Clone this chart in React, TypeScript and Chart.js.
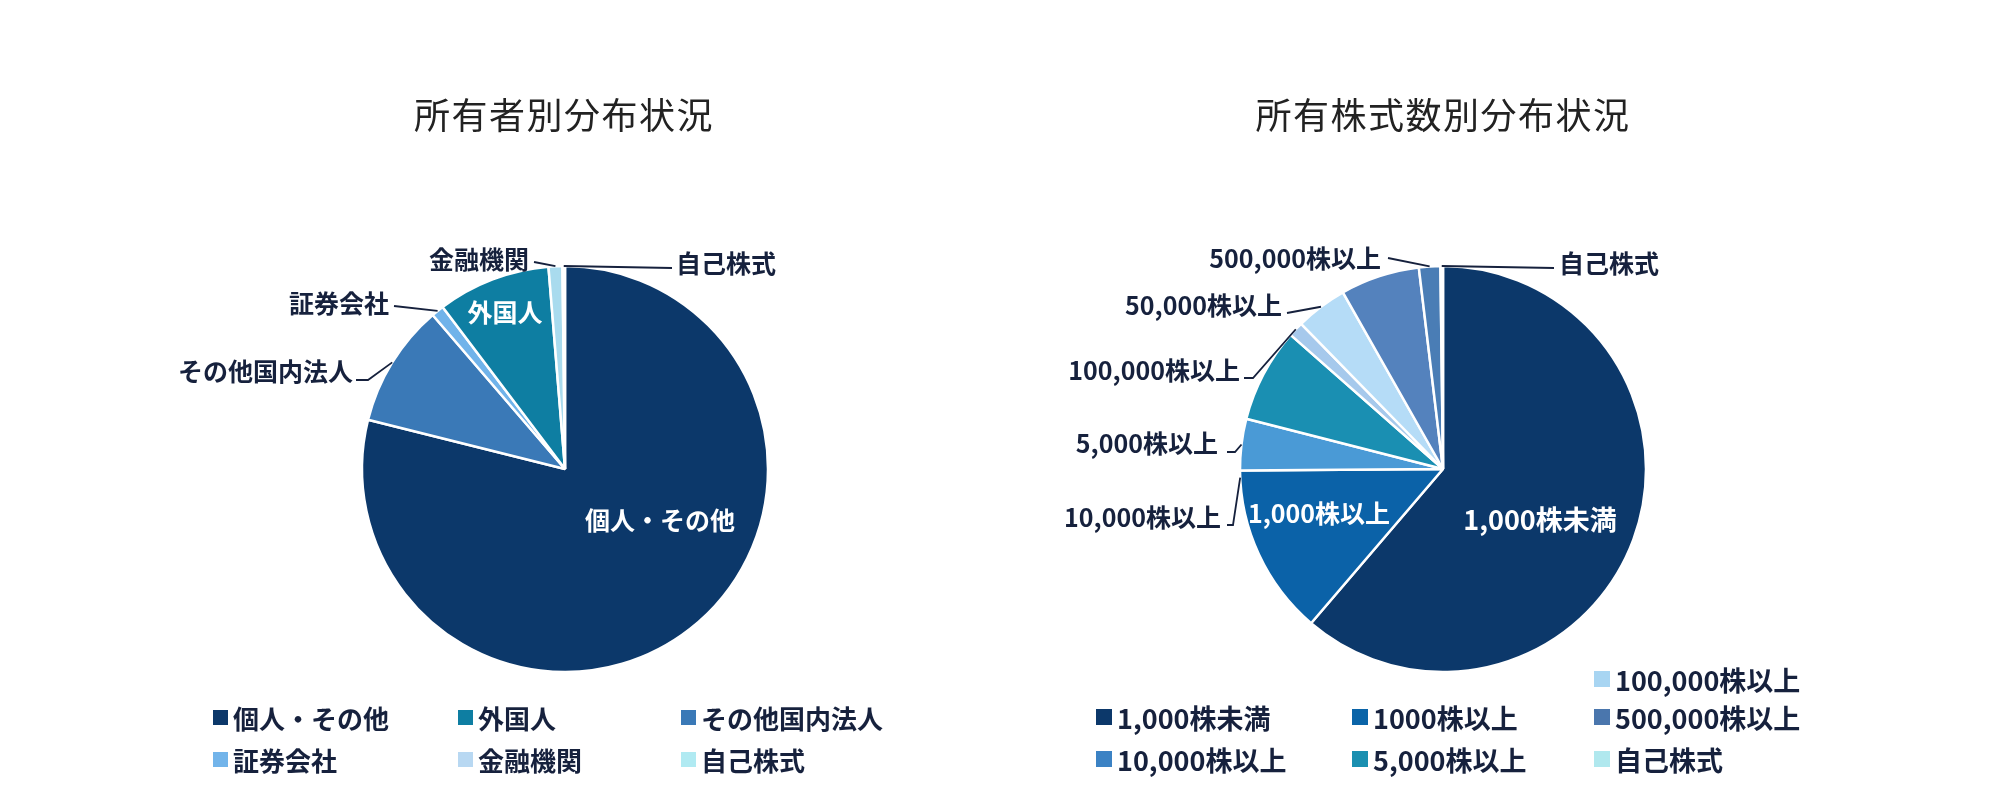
import React, { useEffect, useRef } from "react";
import { Chart, registerables } from "chart.js";

Chart.register(...registerables);

const FONT = '"Noto Sans CJK JP", "Noto Sans", sans-serif';
const INK = "#16213d";

// ---- Left chart: 所有者別分布状況 (clockwise from top) ----
const ownerTitle = "所有者別分布状況";
const ownerLabels = ["個人・その他", "その他国内法人", "証券会社", "外国人", "金融機関", "自己株式"];
const ownerValues = [78.9, 9.8, 1.0, 9.0, 1.1, 0.2];
const ownerColors = ["#0c386a", "#3a79b7", "#70b3ea", "#0e7ea2", "#a9dbee", "#b6ecf4"];
const ownerLegendLabels = ["個人・その他", "外国人", "その他国内法人", "証券会社", "金融機関", "自己株式"];
const ownerLegendColors = ["#0c386a", "#0e7ea2", "#3a79b7", "#72b4ea", "#b8d8f2", "#b0eaf2"];

// ---- Right chart: 所有株式数別分布状況 (clockwise from top) ----
const sharesTitle = "所有株式数別分布状況";
const sharesLabels = [
  "1,000株未満",
  "1,000株以上",
  "10,000株以上",
  "5,000株以上",
  "100,000株以上",
  "50,000株以上",
  "500,000株以上",
  "500,000株以上",
  "自己株式",
];
const sharesValues = [61.2, 13.6, 4.1, 7.5, 1.2, 4.1, 6.3, 1.7, 0.2];
const sharesColors = ["#0c386a", "#0b62a8", "#4a9ad6", "#1a8fb2", "#a6c9ec", "#b5dcf7", "#5482bd", "#4a7db5", "#b8e8f2"];
const sharesLegendLabels = ["1,000株未満", "10,000株以上", "1000株以上", "5,000株以上", "100,000株以上", "500,000株以上", "自己株式"];
const sharesLegendColors = ["#0c386a", "#3b82c4", "#0a64a8", "#1a8fb0", "#a8d5f2", "#4a76ad", "#b0e8ee"];

// ---- layout (not data) ----
type Inside = { slice: number; dx: number; dy: number; size: number };
type Outside = {
  text: string;
  slice: number;
  frac: number;
  tx: number;
  ty: number;
  align: "left" | "right";
  sx: number;
  sy: number;
  ex?: number;
  ey?: number;
};

const ownerInside: Inside[] = [
  { slice: 0, dx: 95, dy: 51, size: 25 },
  { slice: 3, dx: -60, dy: -157, size: 25 },
];
const ownerOutside: Outside[] = [
  { text: "金融機関", slice: 4, frac: 0.5, tx: -36, ty: -210, align: "right", sx: -31, sy: -207 },
  { text: "自己株式", slice: 5, frac: 0.5, tx: 111, ty: -206, align: "left", sx: 107, sy: -201 },
  { text: "証券会社", slice: 2, frac: 0.5, tx: -176, ty: -166, align: "right", sx: -171, sy: -163 },
  { text: "その他国内法人", slice: 1, frac: 0.5, tx: -212, ty: -98, align: "right", sx: -209, sy: -89, ex: -197, ey: -89 },
];

const sharesInside: Inside[] = [
  { slice: 0, dx: 97, dy: 51, size: 27 },
  { slice: 1, dx: -124, dy: 44, size: 25 },
];
const sharesOutside: Outside[] = [
  { text: "500,000株以上", slice: 7, frac: 0.5, tx: -62, ty: -211, align: "right", sx: -55, sy: -211 },
  { text: "自己株式", slice: 8, frac: 0.5, tx: 116, ty: -206, align: "left", sx: 111, sy: -201 },
  { text: "50,000株以上", slice: 5, frac: 0.5, tx: -161, ty: -164, align: "right", sx: -156, sy: -156 },
  { text: "100,000株以上", slice: 4, frac: 0.5, tx: -203, ty: -99, align: "right", sx: -199, sy: -91, ex: -190, ey: -91 },
  { text: "5,000株以上", slice: 2, frac: 0.5, tx: -225, ty: -26, align: "right", sx: -216, sy: -17, ex: -208, ey: -17 },
  { text: "10,000株以上", slice: 1, frac: 0.96, tx: -222, ty: 48, align: "right", sx: -216, sy: 56, ex: -210, ey: 56 },
];

const pieLabelsPlugin = {
  id: "pieLabels",
  afterDatasetsDraw(chart: any, _args: any, opts: any) {
    const meta = chart.getDatasetMeta(0);
    if (!meta || !meta.data.length) return;
    const first = meta.data[0];
    const cx = first.x;
    const cy = first.y;
    const ctx = chart.ctx;
    ctx.save();
    ctx.textBaseline = "middle";
    // inside labels use the slice label text
    (opts.inside || []).forEach((l: Inside) => {
      ctx.font = `bold ${l.size}px ${FONT}`;
      ctx.fillStyle = "#ffffff";
      ctx.textAlign = "center";
      ctx.fillText(chart.data.labels[l.slice], cx + l.dx, cy + l.dy);
    });
    ctx.font = `bold 25px ${FONT}`;
    (opts.outside || []).forEach((l: Outside) => {
      const arc = meta.data[l.slice];
      const p = arc.getProps(["startAngle", "endAngle", "outerRadius"], true);
      const a = p.startAngle + (p.endAngle - p.startAngle) * l.frac;
      const px = cx + Math.cos(a) * p.outerRadius;
      const py = cy + Math.sin(a) * p.outerRadius;
      ctx.strokeStyle = INK;
      ctx.lineWidth = 1.8;
      ctx.beginPath();
      ctx.moveTo(cx + l.sx, cy + l.sy);
      if (l.ex !== undefined && l.ey !== undefined) ctx.lineTo(cx + l.ex, cy + l.ey);
      ctx.lineTo(px, py);
      ctx.stroke();
      ctx.fillStyle = INK;
      ctx.textAlign = l.align;
      ctx.fillText(l.text, cx + l.tx, cy + l.ty);
    });
    ctx.restore();
  },
};

type PieProps = {
  left: number;
  labels: string[];
  values: number[];
  colors: string[];
  inside: Inside[];
  outside: Outside[];
  padLeft: number;
  padRight: number;
};

function Pie({ left, labels, values, colors, inside, outside, padLeft, padRight }: PieProps) {
  const ref = useRef<HTMLCanvasElement | null>(null);
  useEffect(() => {
    if (!ref.current) return;
    const chart = new Chart(ref.current, {
      type: "pie",
      data: {
        labels,
        datasets: [
          {
            data: values,
            backgroundColor: colors,
            borderColor: "#ffffff",
            borderWidth: 2.5,
            radius: 203,
          } as any,
        ],
      },
      options: {
        responsive: false,
        animation: false,
        events: [],
        layout: { padding: { left: padLeft, right: padRight, top: 138, bottom: 0 } },
        plugins: {
          legend: { display: false },
          tooltip: { enabled: false },
          title: { display: false },
          pieLabels: { inside, outside },
        } as any,
      },
      plugins: [pieLabelsPlugin],
    });
    return () => chart.destroy();
  }, []);
  return (
    <canvas
      ref={ref}
      width={1000}
      height={800}
      style={{ position: "absolute", left, top: 0, width: 1000, height: 800, display: "block" }}
    />
  );
}

function Title({ text, cx }: { text: string; cx: number }) {
  return (
    <div
      style={{
        position: "absolute",
        left: cx - 300,
        top: 93,
        width: 600,
        textAlign: "center",
        fontFamily: FONT,
        fontSize: 36,
        lineHeight: "40px",
        letterSpacing: 1.5,
        color: "#222222",
      }}
    >
      {text}
    </div>
  );
}

function LegendItem({
  x,
  y,
  text,
  color,
  size,
  box,
}: {
  x: number;
  y: number;
  text: string;
  color: string;
  size: number;
  box: number;
}) {
  return (
    <div
      style={{
        position: "absolute",
        left: x,
        top: y - 18,
        height: 36,
        display: "flex",
        alignItems: "center",
        fontFamily: FONT,
        fontWeight: 700,
        fontSize: size,
        color: INK,
        whiteSpace: "nowrap",
      }}
    >
      <span style={{ display: "inline-block", width: box, height: box, background: color, marginRight: 5 }} />
      <span>{text}</span>
    </div>
  );
}

export default function App() {
  const leftCols = [213, 458, 681];
  const leftRows = [717, 759];
  const rightCols = [1096, 1352, 1594];
  const rightRows = [679, 717, 759];
  // left legend: row-major 3 columns
  const leftItems = ownerLegendLabels.map((t, i) => ({
    text: t,
    color: ownerLegendColors[i],
    x: leftCols[i % 3],
    y: leftRows[Math.floor(i / 3)],
    size: 26,
    box: 15,
  }));
  // right legend: columns of 2, 2, 3 (column-major)
  const rightSlots: [number, number][] = [
    [0, 1],
    [0, 2],
    [1, 1],
    [1, 2],
    [2, 0],
    [2, 1],
    [2, 2],
  ];
  const rightItems = sharesLegendLabels.map((t, i) => ({
    text: t,
    color: sharesLegendColors[i],
    x: rightCols[rightSlots[i][0]],
    y: rightRows[rightSlots[i][1]],
    size: 27,
    box: 16,
  }));
  return (
    <div style={{ position: "absolute", left: 0, top: 0, width: 2000, height: 800, background: "#ffffff", overflow: "hidden" }}>
      <Pie
        left={0}
        labels={ownerLabels}
        values={ownerValues}
        colors={ownerColors}
        inside={ownerInside}
        outside={ownerOutside}
        padLeft={130}
        padRight={0}
      />
      <Pie
        left={1000}
        labels={sharesLabels}
        values={sharesValues}
        colors={sharesColors}
        inside={sharesInside}
        outside={sharesOutside}
        padLeft={0}
        padRight={114}
      />
      <Title text={ownerTitle} cx={564} />
      <Title text={sharesTitle} cx={1443} />
      {leftItems.map((it, i) => (
        <LegendItem key={"l" + i} {...it} />
      ))}
      {rightItems.map((it, i) => (
        <LegendItem key={"r" + i} {...it} />
      ))}
    </div>
  );
}
